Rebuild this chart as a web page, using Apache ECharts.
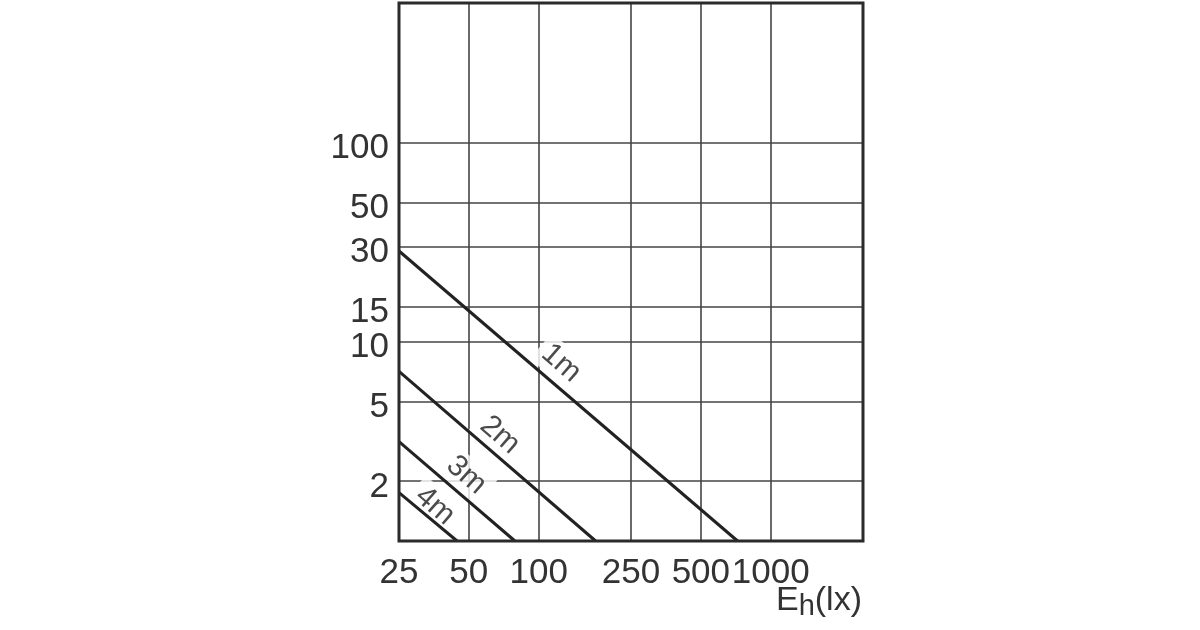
<!DOCTYPE html>
<html>
<head>
<meta charset="utf-8">
<script src="https://cdn.jsdelivr.net/npm/echarts@6/dist/echarts.min.js"></script>
<style>html,body{margin:0;padding:0;background:#fff}#c{width:1200px;height:630px}</style>
</head>
<body>
<div id="c"></div>
<script>
// Illuminance Eh (lx) tick values on the x axis
const xTicks = [25, 50, 100, 250, 500, 1000];
// y axis tick values
const yTicks = [2, 5, 10, 15, 30, 50, 100];
// distance curves: [Eh, value] endpoints
const line1m = [[25, 28.5], [720, 1]];
const line2m = [[25, 7.1], [176, 1]];
const line3m = [[25, 3.15], [79, 1]];
const line4m = [[25, 1.75], [44.5, 1]];
const seriesNames = ['1m', '2m', '3m', '4m'];
// label anchor positions (data coords)
const labelPos = [[125, 7.8], [68, 3.4], [48.7, 2.14], [35.7, 1.5]];
const axisTitle = ['E', 'h', '(lx)'];

const lines = [line1m, line2m, line3m, line4m];
const font = '"Liberation Sans", Arial, sans-serif';

const chart = echarts.init(document.getElementById('c'), null, {renderer: 'canvas'});
const series = lines.map((d, i) => ({
  name: seriesNames[i], type: 'line', data: d, symbol: 'none', silent: true,
  lineStyle: {color: '#222', width: 3}, z: 4
}));
series.push({
  type: 'scatter', symbolSize: 0, silent: true, z: 2,
  data: labelPos.map((p, i) => ({value: p, name: seriesNames[i]})),
  label: {
    show: true, position: 'inside', formatter: p => p.name, rotate: -41,
    fontFamily: font, fontSize: 30, color: '#1e1e1e',
    backgroundColor: '#fff', padding: [2, 6]
  }
});

chart.setOption({
  animation: false,
  backgroundColor: '#fff',
  grid: {left: 399, right: 337, top: 3, bottom: 89, show: true, borderColor: '#2b2b2b', borderWidth: 3, backgroundColor: 'transparent', z: 10},
  xAxis: {
    type: 'log', min: 25, max: 2500, logBase: 10,
    axisLine: {show: false},
    axisTick: {show: false, customValues: xTicks},
    axisLabel: {customValues: xTicks, formatter: v => String(v), hideOverlap: false, showMinLabel: true, showMaxLabel: true, fontFamily: font, fontSize: 35, color: '#333', margin: 15},
    splitLine: {show: true, lineStyle: {color: '#444', width: 1.6}}
  },
  yAxis: {
    type: 'log', min: 1, max: 500, logBase: 10,
    axisLine: {show: false},
    axisTick: {show: false, customValues: yTicks},
    axisLabel: {customValues: yTicks, formatter: v => String(v), hideOverlap: false, showMinLabel: true, showMaxLabel: true, fontFamily: font, fontSize: 35, color: '#333', margin: 10, verticalAlign: 'top', lineHeight: 12},
    splitLine: {show: true, lineStyle: {color: '#444', width: 1.6}}
  },
  graphic: [{
    type: 'text', right: 338, top: 584, silent: true,
    style: {
      text: '{E|' + axisTitle[0] + '}{h|' + axisTitle[1] + '}{E|' + axisTitle[2] + '}',
      rich: {
        E: {fontFamily: font, fontSize: 34, fill: '#333', lineHeight: 40, verticalAlign: 'middle'},
        h: {fontFamily: font, fontSize: 29, fill: '#333', lineHeight: 22, verticalAlign: 'bottom'}
      }
    }
  }],
  series: series
});
</script>
</body>
</html>
